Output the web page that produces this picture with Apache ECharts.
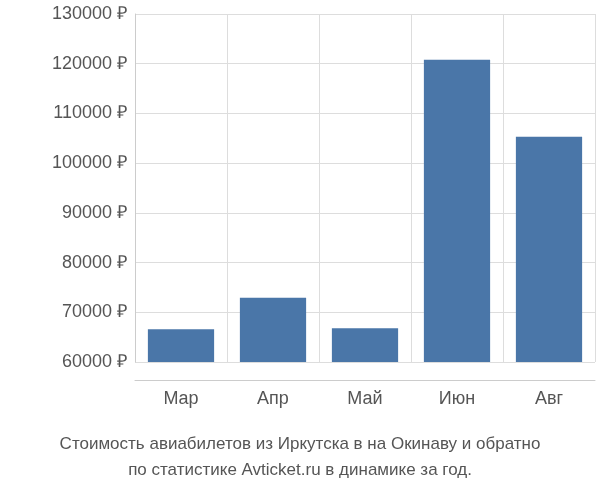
<!DOCTYPE html>
<html lang="ru">
<head>
<meta charset="UTF-8">
<script src="https://cdn.jsdelivr.net/npm/echarts@6/dist/echarts.min.js"></script>
<style>body{margin:0}#chart{width:600px;height:500px}</style>
</head>
<body>
<div id="chart"></div>
<script>
const months = ['Мар', 'Апр', 'Май', 'Июн', 'Авг'];
const prices = [66600, 72900, 66800, 120800, 105300];

const chart = echarts.init(document.getElementById('chart'));
chart.setOption({
    animation: false,
    textStyle: { fontFamily: 'Liberation Sans, Arial, sans-serif' },
    title: {
        text: 'Стоимость авиабилетов из Иркутска в на Окинаву и обратно\nпо статистике Avticket.ru в динамике за год.',
        left: 'center', bottom: 12,
        textStyle: { fontSize: 17, fontWeight: 'normal', color: '#555', lineHeight: 26 }
    },
    grid: { left: 135, right: 5, top: 14, bottom: 138 },
    xAxis: {
        type: 'category', data: months, offset: 18,
        axisLine: { lineStyle: { color: '#ccc' } },
        axisTick: { length: 18, lineStyle: { color: '#ccc' } },
        splitLine: { show: true, lineStyle: { color: '#ddd' } },
        axisLabel: { fontSize: 18, color: '#555', margin: 10 }
    },
    yAxis: {
        type: 'value', min: 60000, max: 130000, interval: 10000,
        axisLine: { show: true, lineStyle: { color: '#ccc' } },
        splitLine: { lineStyle: { color: '#ddd' } },
        axisLabel: { fontSize: 18, color: '#555', formatter: v => v + ' ₽' }
    },
    series: [{
        type: 'bar', data: prices, barWidth: '72%',
        itemStyle: { color: '#4a76a8' }
    }]
});
</script>
</body>
</html>
